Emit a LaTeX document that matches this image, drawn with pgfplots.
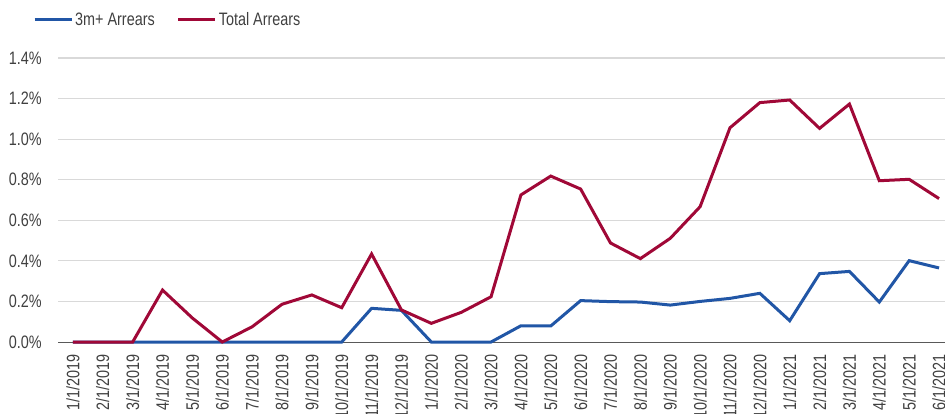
\documentclass[border=0pt]{standalone}
\usepackage{fontspec}
\setmainfont[FakeStretch=0.8]{Liberation Sans}
\usepackage{pgfplots}
\pgfplotsset{compat=1.18}
\definecolor{bluel}{RGB}{33,86,166}
\definecolor{redl}{RGB}{160,8,55}
\definecolor{txt}{RGB}{64,64,64}
\definecolor{gridc}{RGB}{217,217,217}
\definecolor{basec}{RGB}{89,89,89}
\begin{document}
\begin{tikzpicture}[x=1pt,y=1pt]
\useasboundingbox (0,0) rectangle (945,413);
\clip (0,0) rectangle (945,413);
\begin{axis}[
  at={(58pt,71pt)}, anchor=south west,
  scale only axis, width=887pt, height=284pt,
  xmin=-0.5, xmax=29.2, ymin=0, ymax=1.4,
  clip=false,
  axis lines*=left,
  axis line style={-},
  x axis line style={draw=basec, line width=1pt},
  y axis line style={draw=none},
  ymajorgrids, grid style={draw=gridc, line width=1pt},
  major tick length=0pt,
  ytick={0,0.2,0.4,0.6,0.8,1.0,1.2,1.4},
  yticklabel={\pgfmathprintnumber[fixed,fixed zerofill,precision=1]{\tick}\%},
  /pgf/number format/assume math mode=true,
  xtick={0,...,29},
  xticklabels={1/1/2019,2/1/2019,3/1/2019,4/1/2019,5/1/2019,6/1/2019,7/1/2019,8/1/2019,9/1/2019,10/1/2019,11/1/2019,12/1/2019,1/1/2020,2/1/2020,3/1/2020,4/1/2020,5/1/2020,6/1/2020,7/1/2020,8/1/2020,9/1/2020,10/1/2020,11/1/2020,12/1/2020,1/1/2021,2/1/2021,3/1/2021,4/1/2021,5/1/2021,6/1/2021},
  x tick label style={rotate=90, anchor=east, font=\fontsize{18}{20}\selectfont, text=txt, inner sep=0pt, xshift=-12pt},
  y tick label style={font=\fontsize{18}{20}\selectfont, text=txt, inner sep=0pt, xshift=-16pt},
  legend columns=2,
  legend style={at={(0,1)}, anchor=west, xshift=-28pt, yshift=38pt, draw=none, fill=none,
    font=\fontsize{18}{20}\selectfont, text=txt, column sep=0pt,
    /tikz/every even column/.append style={column sep=20pt}},
  legend image code/.code={\draw[#1, line width=3pt] (0pt,0pt) -- (37pt,0pt);},
]
\addplot[bluel, line width=3pt] coordinates {
(0,0) (1,0) (2,0) (3,0) (4,0) (5,0) (6,0) (7,0) (8,0) (9,0)
(10,0.166) (11,0.156) (12,0) (13,0) (14,0) (15,0.080) (16,0.079) (17,0.204) (18,0.199) (19,0.197)
(20,0.182) (21,0.200) (22,0.215) (23,0.240) (24,0.105) (25,0.337) (26,0.348) (27,0.197) (28,0.401) (29,0.365)
};
\addlegendentry{3m+ Arrears}
\addplot[redl, line width=3pt] coordinates {
(0,0) (1,0) (2,0) (3,0.256) (4,0.118) (5,0) (6,0.075) (7,0.186) (8,0.232) (9,0.169)
(10,0.434) (11,0.158) (12,0.092) (13,0.146) (14,0.223) (15,0.725) (16,0.818) (17,0.754) (18,0.488) (19,0.411)
(20,0.511) (21,0.667) (22,1.056) (23,1.180) (24,1.193) (25,1.053) (26,1.173) (27,0.795) (28,0.802) (29,0.707)
};
\addlegendentry{Total Arrears}
\end{axis}
\end{tikzpicture}
\end{document}
